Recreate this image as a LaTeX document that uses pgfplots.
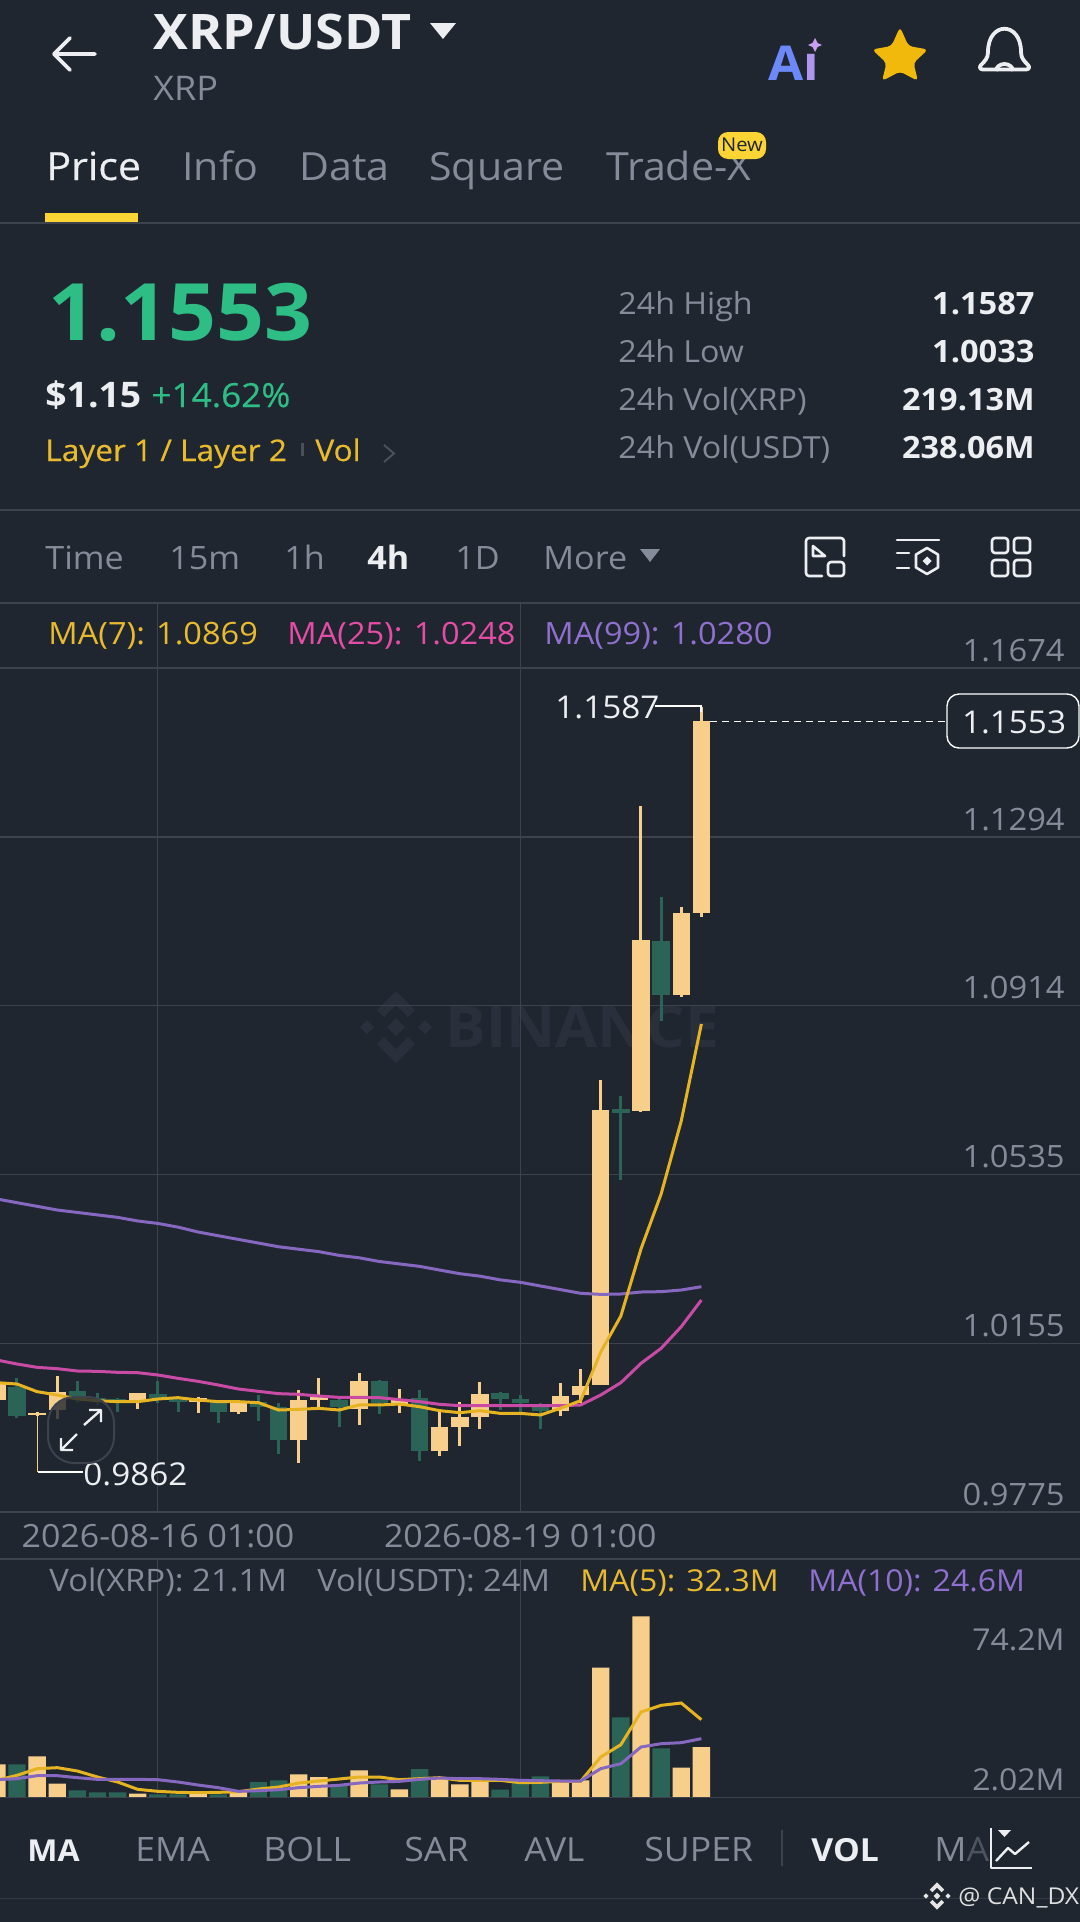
\documentclass[border=0pt]{standalone}
\usepackage{fontspec}
\usepackage{pgfplots}
\pgfplotsset{compat=1.18}
\setmainfont[FakeStretch=1.06]{Open Sans}
\newfontfamily\med[FakeStretch=1.06,FakeBold=0.4]{Open Sans}
\definecolor{bg}{HTML}{1F2630}
\definecolor{gridc}{HTML}{3D424D}
\definecolor{cream}{HTML}{F8CF8A}
\definecolor{dgreen}{HTML}{2B6356}
\definecolor{maY}{HTML}{E6B422}
\definecolor{maM}{HTML}{C94BA6}
\definecolor{maP}{HTML}{8768C0}
\definecolor{txtgray}{HTML}{858C99}
\definecolor{lgY}{HTML}{E8BA2E}
\definecolor{lgM}{HTML}{E54CA6}
\definecolor{lgP}{HTML}{8F70CE}
\definecolor{upg}{HTML}{2EBD85}
\definecolor{yel}{HTML}{FCD535}
\definecolor{wm}{HTML}{2A303B}
\definecolor{spark}{HTML}{C9A0F0}
\definecolor{starc}{HTML}{F0B90B}
\definecolor{wht}{HTML}{ECEEF1}
\definecolor{dim}{HTML}{4A4F5C}
\newcommand\fs[1]{\fontsize{#1}{#1}\selectfont}
% \T{x}{baseline y}{anchor}{color}{size}{text}
\newcommand\T[6]{\node[anchor=#3,inner sep=0pt,text=#4,font=\fs{#5}] at (#1,#2) {#6};}
\newcommand\Tm[6]{\node[anchor=#3,inner sep=0pt,text=#4,font=\med\fs{#5}] at (#1,#2) {#6};}
\newcommand\Tb[6]{\node[anchor=#3,inner sep=0pt,text=#4,font=\fs{#5}\bfseries] at (#1,#2) {#6};}
\begin{document}
\begin{tikzpicture}
\path[use as bounding box] (0,0) rectangle (540pt,-961pt);
\fill[bg] (0,0) rectangle (540pt,-961pt);
\begin{scope}[x=0.5pt,y=-0.5pt]
% watermark
\begin{scope}[shift={(396,1027)}]
\fill[wm] (0,-9)--(9,0)--(0,9)--(-9,0)--cycle;
\fill[wm] (-36,0)--(-29,-7)--(-22,0)--(-29,7)--cycle;
\fill[wm] (36,0)--(29,-7)--(22,0)--(29,7)--cycle;
\fill[wm] (0,-36)--(19,-17)--(12,-10)--(0,-22)--(-12,-10)--(-19,-17)--cycle;
\fill[wm] (0,36)--(19,17)--(12,10)--(0,22)--(-12,10)--(-19,17)--cycle;
\end{scope}
\Tb{445}{1047}{base west}{wm}{28.6}{BINANCE}
\end{scope}

% price axis
\begin{axis}[at={(0pt,-756pt)},anchor=south west,scale only axis,width=540pt,height=454pt,
 xmin=0.1565,xmax=53.81,ymin=0.9775,ymax=1.1818,
 axis line style={draw=none},tick style={draw=none},
 xtick={8,26},xticklabels={2026-08-16 01:00,2026-08-19 01:00},
 ytick={0.9775,1.0155,1.0535,1.0914,1.1294,1.1674},
 yticklabels={0.9775,1.0155,1.0535,1.0914,1.1294,1.1674},
 yticklabel pos=right,
 xticklabel style={anchor=center,yshift=-12pt,text=txtgray,font=\fs{16},inner sep=0pt},
 yticklabel style={anchor=south east,xshift=-7.5pt,yshift=3pt,text=txtgray,font=\fs{15.4},inner sep=0pt},
 grid=major,grid style={gridc,line width=0.6pt},
 unbounded coords=jump]
% green wicks
\addplot[dgreen,line width=1.5pt,line cap=butt,mark=none] coordinates {
(1,1.00758)(1,0.99873)(1,nan)(4,1.0069)(4,1.00195)(4,nan)(5,1.0042)(5,1.00158)(5,nan)(6,1.00308)(6,1.00008)(6,nan)
(8,1.00698)(8,1.00195)(8,nan)(9,1.00345)(9,1.00008)(9,nan)(11,1.0027)(11,0.99745)(11,nan)(13,1.00383)(13,0.99805)(13,nan)
(14,1.00195)(14,0.99048)(14,nan)(17,1.00308)(17,0.9967)(17,nan)(19,1.0072)(19,0.99955)(19,nan)(21,1.00495)(21,0.98905)(21,nan)
(25,1.00458)(25,1.00045)(25,nan)(26,1.00383)(26,0.99933)(26,nan)(27,1.0021)(27,0.9961)(27,nan)
(31,1.0711)(31,1.0522)(31,nan)(33,1.11588)(33,1.08798)};
% green bodies
\addplot[dgreen,line width=8.7pt,line cap=butt,mark=none] coordinates {
(1,1.0057)(1,0.9991)(1,nan)(4,1.0048)(4,1.00308)(4,nan)(5,1.00308)(5,1.00233)(5,nan)(6,1.00285)(6,1.0021)(6,nan)
(8,1.00413)(8,1.00308)(8,nan)(9,1.00308)(9,1.00233)(9,nan)(11,1.00233)(11,1.0)(11,nan)(13,1.00233)(13,1.0012)(13,nan)
(14,1.0012)(14,0.9937)(14,nan)(17,1.0027)(17,1.00105)(17,nan)(19,1.00698)(19,1.0021)(19,nan)(21,1.00323)(21,0.9913)(21,nan)
(25,1.0042)(25,1.00293)(25,nan)(26,1.00285)(26,1.0021)(26,nan)(27,1.0018)(27,1.0003)(27,nan)
(31,1.06818)(31,1.06728)(31,nan)(33,1.10598)(33,1.09394)};
% cream wicks
\addplot[cream,line width=1.5pt,line cap=butt,mark=none] coordinates {
(0,1.00698)(0,1.0027)(0,nan)(2,1.00008)(2,0.9991)(2,nan)(3,1.0081)(3,0.99835)(3,nan)(7,1.0042)(7,1.0006)(7,nan)
(10,1.00345)(10,0.9997)(10,nan)(12,1.0027)(12,0.99948)(12,nan)(15,1.00495)(15,0.98845)(15,nan)(16,1.00758)(16,1.00083)(16,nan)
(18,1.0087)(18,0.99708)(18,nan)(20,1.0051)(20,0.99985)(20,nan)(22,1.0006)(22,0.99018)(22,nan)(23,1.00233)(23,0.99243)(23,nan)
(24,1.00683)(24,0.9961)(24,nan)(28,1.00645)(28,0.99918)(28,nan)(29,1.0096)(29,1.00195)(29,nan)
(30,1.0747)(30,1.00608)(30,nan)(32,1.13635)(32,1.0675)(32,nan)(34,1.11363)(34,1.09338)(34,nan)(35,1.15863)(35,1.11138)};
% cream bodies
\addplot[cream,line width=8.7pt,line cap=butt,mark=none] coordinates {
(0,1.00683)(0,1.0027)(0,nan)(2,0.99985)(2,0.99925)(2,nan)(3,1.00458)(3,1.00045)(3,nan)(7,1.0042)(7,1.00248)(7,nan)
(10,1.00308)(10,1.00233)(10,nan)(12,1.00233)(12,1.00008)(12,nan)(15,1.0027)(15,0.9937)(15,nan)(16,1.00345)(16,1.0027)(16,nan)
(18,1.00698)(18,1.0006)(18,nan)(20,1.0027)(20,1.00158)(20,nan)(22,0.9967)(22,0.99123)(22,nan)(23,0.99895)(23,0.99655)(23,nan)
(24,1.00405)(24,0.99895)(24,nan)(28,1.0036)(28,1.0003)(28,nan)(29,1.00585)(29,1.00375)(29,nan)
(30,1.06795)(30,1.00608)(30,nan)(32,1.1062)(32,1.06773)(32,nan)(34,1.11228)(34,1.09394)(34,nan)(35,1.15548)(35,1.11228)};
% MA99
\addplot[maP,line width=1.5pt,mark=none] coordinates {
(0,1.04794)(1,1.0471)(2,1.04628)(3,1.04545)(4,1.0449)(5,1.04435)(6,1.0438)(7,1.04298)(8,1.04243)(9,1.0416)(10,1.0405)(11,1.03966)
(12,1.03884)(13,1.03801)(14,1.03718)(15,1.03663)(16,1.03608)(17,1.03525)(18,1.0347)(19,1.03387)(20,1.03332)(21,1.03277)
(22,1.03194)(23,1.03112)(24,1.03057)(25,1.02974)(26,1.02919)(27,1.02836)(28,1.02754)(29,1.02671)(30,1.02647)(31,1.02655)
(32,1.027)(33,1.02708)(34,1.02745)(35,1.0282)};
% MA25
\addplot[maM,line width=1.5pt,mark=none] coordinates {
(0,1.0117)(1,1.0108)(2,1.01005)(3,1.00975)(4,1.00923)(5,1.00915)(6,1.00893)(7,1.00885)(8,1.00833)(9,1.00758)(10,1.0069)(11,1.00608)
(12,1.00518)(13,1.00465)(14,1.00413)(15,1.00398)(16,1.0036)(17,1.0033)(18,1.0033)(19,1.00323)(20,1.00278)(21,1.00233)(22,1.00173)
(23,1.00143)(24,1.00143)(25,1.00143)(26,1.00143)(27,1.00143)(28,1.00143)(29,1.00158)(30,1.00383)(31,1.0066)(32,1.01095)(33,1.01433)(34,1.0192)(35,1.0252)};
% MA7
\addplot[maY,line width=1.5pt,mark=none] coordinates {
(0,1.0066)(1,1.0063)(2,1.00458)(3,1.00383)(4,1.00293)(5,1.00255)(6,1.00233)(7,1.00233)(8,1.00293)(9,1.00323)(10,1.0027)(11,1.00233)
(12,1.00233)(13,1.0021)(14,1.00045)(15,1.0006)(16,1.00083)(17,1.00045)(18,1.00158)(19,1.00158)(20,1.0018)(21,1.0012)(22,1.0003)
(23,0.99985)(24,1.0003)(25,0.9997)(26,0.9997)(27,0.99933)(28,1.00083)(29,1.00255)(30,1.0135)(31,1.0216)(32,1.0367)(33,1.04905)(34,1.06548)(35,1.0873)};
% last price line
\addplot[white,line width=0.6pt,dash pattern=on 3.5pt off 2.5pt,mark=none] coordinates {(35.43,1.1553)(47.15,1.1553)};
\end{axis}

% volume axis
\begin{axis}[at={(0pt,-898.5pt)},anchor=south west,scale only axis,width=540pt,height=119pt,
 xmin=0.1565,xmax=53.81,ymin=0,ymax=97.8,
 axis line style={draw=none},tick style={draw=none},
 xtick={8,26},xticklabels={},ytick=\empty,
 xmajorgrids=true,grid style={gridc,line width=0.6pt},
 ybar,bar width=8.7pt,bar shift=0pt]
\addplot[fill=dgreen,draw=none] coordinates {(1,13.43)(4,2.74)(5,1.92)(6,1.92)(8,1.10)(9,1.10)(11,1.10)(13,6.17)(14,6.85)(17,5.21)(19,5.21)(21,11.51)(25,3.01)(26,6.17)(27,8.49)(31,32.74)(33,20.0)};
\addplot[fill=cream,draw=none] coordinates {(0,13.43)(2,16.71)(3,5.48)(7,1.37)(10,1.37)(12,2.47)(15,9.32)(16,8.22)(18,10.96)(20,3.15)(22,8.22)(23,5.21)(24,6.85)(28,6.17)(29,6.85)(30,53.16)(32,74.25)(34,12.06)(35,20.55)};
\addplot[sharp plot,maY,line width=1.5pt,mark=none,fill=none] coordinates {
(0,6.85)(1,8.91)(2,11.65)(3,12.06)(4,10.69)(5,8.22)(6,6.17)(7,3.15)(8,2.33)(9,1.92)(10,1.78)(11,1.92)(12,2.19)(13,3.29)(14,4.11)(15,5.75)(16,6.58)(17,7.40)
(18,8.22)(19,8.22)(20,7.12)(21,7.54)(22,7.95)(23,6.85)(24,6.85)(25,6.85)(26,5.89)(27,6.03)(28,6.44)(29,6.44)(30,16.44)(31,21.51)(32,34.94)(33,37.68)(34,38.63)(35,31.78)};
\addplot[sharp plot,maP,line width=1.5pt,mark=none,fill=none] coordinates {
(0,7.12)(1,7.54)(2,8.77)(3,8.77)(4,7.95)(5,7.26)(6,7.26)(7,7.26)(8,7.12)(9,6.17)(10,4.93)(11,3.84)(12,2.33)(13,2.60)(14,3.01)(15,3.84)(16,4.38)(17,4.80)
(18,5.75)(19,6.17)(20,6.44)(21,7.26)(22,7.81)(23,7.54)(24,7.54)(25,7.26)(26,6.85)(27,6.71)(28,6.58)(29,6.58)(30,11.65)(31,13.7)(32,20.55)(33,21.92)(34,22.33)(35,23.98)};
\end{axis}

\begin{scope}[x=0.5pt,y=-0.5pt]
% separators
\draw[gridc,line width=0.6pt] (0,223)--(1080,223);
\draw[gridc,line width=0.6pt] (0,510)--(1080,510);
\draw[gridc,line width=0.6pt] (0,603)--(1080,603);
\draw[gridc,line width=0.6pt] (0,1559)--(1080,1559);
\draw[gridc,line width=0.8pt] (0,1797.5)--(1080,1797.5);
\draw[gridc!70!bg,line width=0.5pt] (0,1898)--(1080,1898);
% header
\draw[wht,line width=1.8pt,line cap=round,line join=round] (95,54)--(54,54) (70,38)--(54,54)--(70,70);
\Tb{153}{49}{base west}{wht}{24.5}{XRP/USDT}
\fill[wht] (430,23)--(456,23)--(443,39)--cycle;
\T{153}{100}{base west}{txtgray}{17}{XRP}
\Tb{768}{80}{base west}{white}{24}{\textcolor[HTML]{6D88F8}{A}\textcolor[HTML]{AE96F0}{i}}
\fill[bg] (806,40) rectangle (826,52.5);
\fill[spark] (815,38)--(817.5,43)--(822,45)--(817.5,47)--(815,52)--(812.5,47)--(808,45)--(812.5,43)--cycle;
\fill[starc,rounded corners=2pt] (900,27)--(908.5,46)--(928,49.5)--(913.5,63)--(918,81)--(900,71.5)--(882,81)--(886.5,63)--(872,49.5)--(891.5,46)--cycle;
\draw[wht,line width=1.9pt,line join=round] (988,52) .. controls (988,21) and (1021,21) .. (1021,52) .. controls (1021,58) and (1024,61) .. (1028,65) .. controls (1030,67) and (1029,69.5) .. (1026,69.5) -- (983,69.5) .. controls (980,69.5) and (979,67) .. (981,65) .. controls (985,61) and (988,58) .. (988,52) -- cycle;
\draw[wht,line width=1.9pt] (996,71) arc (180:360:8.5 and 7);
% tabs
\Tm{46}{180}{base west}{wht}{19.4}{Price}
\T{182}{180}{base west}{txtgray}{19.4}{Info}
\T{299}{180}{base west}{txtgray}{19.4}{Data}
\T{429}{180}{base west}{txtgray}{19.4}{Square}
\T{606}{180}{base west}{txtgray}{19.4}{Trade-X}
\fill[yel] (45,213) rectangle (138,222);
\fill[yel,rounded corners=5pt] (718,132) rectangle (766,159);
\T{742}{151}{base}{bg}{9.5}{New}
% price block
\Tb{48}{340}{base west}{upg}{39.6}{1.1553}
\Tb{45}{407}{base west}{wht}{17.6}{\$1.15}
\Tm{151}{407}{base west}{upg}{16.6}{+14.62\%}
\Tm{45}{461}{base west}{lgY}{14.9}{Layer 1 / Layer 2}
\fill[dim] (301,443) rectangle (304,456);
\Tm{315}{461}{base west}{lgY}{14.9}{Vol}
\draw[dim,line width=1pt] (384,445)--(394,453.5)--(384,462);
\T{618}{314}{base west}{txtgray}{15.2}{24h High}
\T{618}{362}{base west}{txtgray}{15.2}{24h Low}
\T{618}{410}{base west}{txtgray}{15.2}{24h Vol(XRP)}
\T{618}{458}{base west}{txtgray}{15.2}{24h Vol(USDT)}
\Tb{1035}{314}{base east}{wht}{15.4}{1.1587}
\Tb{1035}{362}{base east}{wht}{15.4}{1.0033}
\Tb{1035}{410}{base east}{wht}{15.3}{219.13M}
\Tb{1035}{458}{base east}{wht}{15.3}{238.06M}
% time row
\T{45}{569}{base west}{txtgray}{16.1}{Time}
\T{169}{569}{base west}{txtgray}{16.1}{15m}
\T{284}{569}{base west}{txtgray}{16.1}{1h}
\Tb{367}{569}{base west}{wht}{16.1}{4h}
\T{455}{569}{base west}{txtgray}{16.1}{1D}
\T{543}{569}{base west}{txtgray}{16.1}{More}
\fill[txtgray] (640,549)--(660,549)--(650,562)--cycle;
% icons
\begin{scope}[wht,line width=1.3pt,line join=round,line cap=round]
\draw[rounded corners=1.5pt] (844,556)--(844,538)--(806,538)--(806,576)--(822,576);
\draw (813,546)--(825,556) (813,546)--(813,556)--(825,556);
\draw[rounded corners=1.5pt] (828,562) rectangle (844,576);
\draw (897,540)--(939,540) (897,553)--(909,553) (897,568)--(909,568);
\draw (927,548)--(938,554.5)--(938,567.5)--(927,574)--(916,567.5)--(916,554.5)--cycle;
\fill (927,556.5)--(931.5,561)--(927,565.5)--(922.5,561)--cycle;
\draw[rounded corners=1.5pt] (992,538) rectangle (1008,553);
\draw[rounded corners=1.5pt] (1014,538) rectangle (1030,553);
\draw[rounded corners=1.5pt] (992,560) rectangle (1008,576);
\draw[rounded corners=1.5pt] (1014,560) rectangle (1030,576);
\end{scope}
% MA legend
\T{48}{644}{base west}{lgY}{15.35}{MA(7): 1.0869}
\T{287}{644}{base west}{lgM}{15.35}{MA(25): 1.0248}
\T{544}{644}{base west}{lgP}{15.35}{MA(99): 1.0280}
% high label
\T{555}{718}{base west}{wht}{15.7}{1.1587}
\draw[white,line width=0.6pt] (655,706)--(701,706)--(701,712);
% last price box
\draw[white,fill=bg,line width=0.7pt,rounded corners=6pt] (947,694) rectangle (1079,748);
\T{1014}{733}{base}{wht}{15.7}{1.1553}
% low label
\draw[cream,line width=0.6pt] (37.5,1415)--(37.5,1472);
\draw[white,line width=0.6pt] (37.5,1472)--(83,1472);
\T{83}{1485}{base west}{wht}{15.7}{0.9862}
% expand button
\draw[gridc,fill=bg,fill opacity=0.8,line width=1pt,rounded corners=13pt] (48,1397) rectangle (114,1463);
\draw[wht,line width=1.2pt,line join=round] (84,1425)--(101,1410) (89,1410)--(101,1410)--(101,1422);
\draw[wht,line width=1.2pt,line join=round] (77,1434)--(61,1450) (61,1438)--(61,1450)--(73,1450);
% vol legend
\T{49}{1591}{base west}{txtgray}{15.5}{Vol(XRP): 21.1M}
\T{317}{1591}{base west}{txtgray}{15.4}{Vol(USDT): 24M}
\T{580}{1591}{base west}{lgY}{15.1}{MA(5): 32.3M}
\T{808}{1591}{base west}{lgP}{15.1}{MA(10): 24.6M}
\T{1065}{1650}{base east}{txtgray}{15.1}{74.2M}
\T{1065}{1790}{base east}{txtgray}{15.1}{2.02M}
% bottom tabs
\Tb{27}{1861}{base west}{wht}{15.1}{MA}
\T{135}{1861}{base west}{txtgray}{16.8}{EMA}
\T{263}{1861}{base west}{txtgray}{16.8}{BOLL}
\T{404}{1861}{base west}{txtgray}{16.8}{SAR}
\T{524}{1861}{base west}{txtgray}{16.6}{AVL}
\T{644}{1861}{base west}{txtgray}{16.8}{SUPER}
\draw[gridc,line width=0.6pt] (782,1830)--(782,1866);
\Tb{811}{1861}{base west}{wht}{15.9}{VOL}
\T{934}{1861}{base west}{txtgray}{16.8}{M\textcolor{txtgray!45!bg}{A}}
\draw[wht,line width=1.3pt,line join=round] (991,1828)--(991,1868)--(1032,1868);
\draw[wht,line width=1.2pt,line join=round] (996,1861)--(1008,1848)--(1015,1854)--(1029,1842);
\fill[wht] (998,1830)--(1011,1830)--(1004.5,1837)--cycle;
% credit
\begin{scope}[shift={(937,1896)},scale=0.38]
\fill[white!80!gray] (0,-9)--(9,0)--(0,9)--(-9,0)--cycle;
\fill[white!80!gray] (-36,0)--(-29,-7)--(-22,0)--(-29,7)--cycle;
\fill[white!80!gray] (36,0)--(29,-7)--(22,0)--(29,7)--cycle;
\fill[white!80!gray] (0,-36)--(19,-17)--(12,-10)--(0,-22)--(-12,-10)--(-19,-17)--cycle;
\fill[white!80!gray] (0,36)--(19,17)--(12,10)--(0,22)--(-12,10)--(-19,17)--cycle;
\end{scope}
\T{958}{1904}{base west}{white!75!gray}{11.6}{@ CAN\_DX}
\end{scope}
\end{tikzpicture}
\end{document}
